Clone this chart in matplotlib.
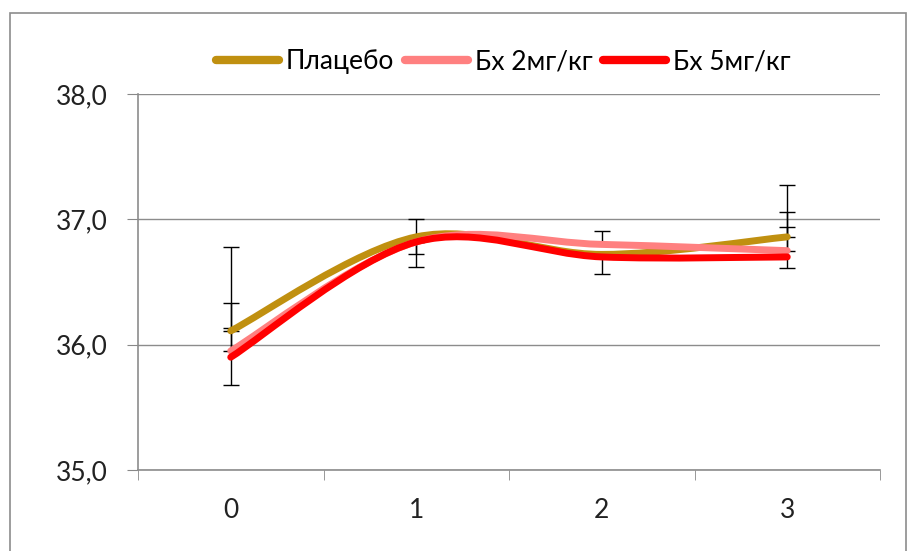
import matplotlib.pyplot as plt
from matplotlib.path import Path
from matplotlib.patches import PathPatch, Rectangle
from matplotlib.lines import Line2D
import numpy as np

plt.rcParams['font.family'] = ['Lato', 'DejaVu Sans']

# data
days = [0, 1, 2, 3]
tick_labels = ["0", "1", "2", "3"]
names = ["Плацебо", "Бх 2мг/кг", "Бх 5мг/кг"]
colors = ["#c09010", "#ff8080", "#ff0000"]

placebo = [36.11, 36.86, 36.72, 36.86]
bx2 = [35.95, 36.82, 36.80, 36.75]
bx5 = [35.90, 36.82, 36.70, 36.70]

# error bars (down, up)
placebo_err = [[0.0, 0.14, 0.0, 0.0], [0.67, 0.14, 0.0, 0.41]]
bx2_err = [[0.0, 0.0, 0.0, 0.0], [0.38, 0.0, 0.11, 0.31]]
bx5_err = [[0.22, 0.20, 0.14, 0.09], [0.23, 0.0, 0.0, 0.24]]

series = [placebo, bx2, bx5]
errors = [placebo_err, bx2_err, bx5_err]


def smooth_path(xs, ys):
    # Excel-like smoothed line: Catmull-Rom as cubic bezier segments
    p = np.column_stack([xs, ys]).astype(float)
    verts = [p[0]]
    codes = [Path.MOVETO]
    n = len(p)
    for i in range(n - 1):
        p0 = p[i - 1] if i > 0 else p[i]
        p3 = p[i + 2] if i + 2 < n else p[i + 1]
        c1 = p[i] + (p[i + 1] - p0) / 6
        c2 = p[i + 1] - (p3 - p[i]) / 6
        verts += [c1, c2, p[i + 1]]
        codes += [Path.CURVE4] * 3
    return Path(verts, codes)


fig = plt.figure(figsize=(9.1, 5.51), dpi=100)
fig.patches.append(Rectangle((10 / 910, -0.01), 896 / 910, 1 - 13 / 551 + 0.01,
                             transform=fig.transFigure, fill=False,
                             edgecolor="#8c8c8c", linewidth=1.2))
ax = fig.add_axes([138 / 910, 81 / 551, 742 / 910, 376 / 551])

for vals, err in zip(series, errors):
    ax.errorbar(days, vals, yerr=err, fmt="none", ecolor="black",
                elinewidth=1, capsize=6, capthick=1, zorder=2)

for vals, c in zip(series, colors):
    patch = PathPatch(smooth_path(days, vals), facecolor="none", edgecolor=c,
                      linewidth=5, capstyle="round", zorder=3)
    ax.add_patch(patch)

ax.set_xlim(-0.5, 3.5)
ax.set_ylim(35, 38)
ax.set_yticks([35, 36, 37, 38])
ax.set_yticklabels(["35,0", "36,0", "37,0", "38,0"])
ax.set_xticks(days)
ax.set_xticklabels(tick_labels)
ax.set_xticks([-0.5, 0.5, 1.5, 2.5, 3.5], minor=True)
ax.tick_params(axis="x", which="major", length=0, pad=20, labelsize=19,
               labelcolor="#222222")
ax.tick_params(axis="x", which="minor", length=7, color="#888888",
               direction="out")
ax.tick_params(axis="y", length=8, color="#888888", pad=14, labelsize=19,
               labelcolor="#222222")
ax.grid(axis="y", color="#8c8c8c", linewidth=1)
ax.set_axisbelow(True)
for s in ["top", "right"]:
    ax.spines[s].set_visible(False)
for s in ["left", "bottom"]:
    ax.spines[s].set_color("#8c8c8c")
    ax.spines[s].set_linewidth(1.2)

handles = [Line2D([], [], color=c, linewidth=6, solid_capstyle="round")
           for c in colors]
fig.legend(handles, names, loc="center", bbox_to_anchor=(503 / 910, 1 - 62 / 551),
           ncol=3, frameon=False, fontsize=19, handlelength=2.4,
           handletextpad=0.25, columnspacing=0.4)

fig.savefig("out.png", dpi=100)
